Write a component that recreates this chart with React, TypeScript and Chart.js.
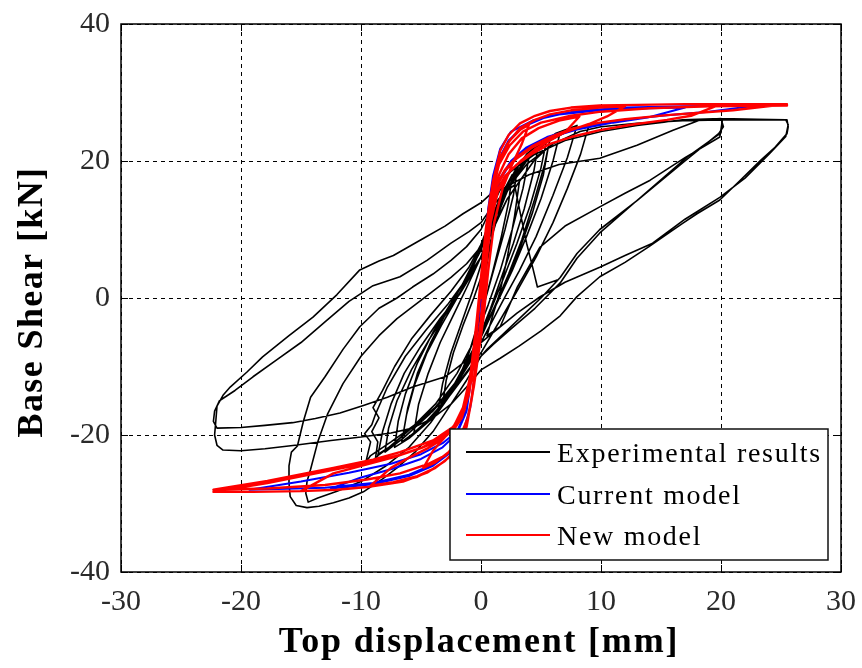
import React, { useEffect, useRef } from 'react';
import { Chart, registerables } from 'chart.js';

Chart.register(...registerables);

type P = [number, number];

const xTicks = [-30, -20, -10, 0, 10, 20, 30];
const yTicks = [-40, -20, 0, 20, 40];
const xTitle = 'Top displacement [mm]';
const yTitle = 'Base Shear [kN]';
const seriesNames = ['Experimental results', 'Current model', 'New model'];
const seriesColors = ['#000000', '#0000ff', '#ff0000'];

// ---------- Experimental results (time-ordered loops) ----------
const expSmall1: P[] = [
  [0, 0], [0.4, 4], [0.9, 9], [1.4, 13], [2, 16], [2.6, 18], [2.3, 14], [1.7, 9], [1, 4], [0.4, 0],
  [-0.3, -4], [-1, -8], [-1.8, -11.5], [-2.6, -14], [-3.2, -15.5], [-2.9, -12], [-2.3, -8], [-1.5, -4],
  [-0.6, 0], [0.2, 4], [0.9, 9], [1.6, 13], [2.4, 16.5], [3, 18.5], [2.7, 15], [2, 10], [1.2, 5], [0.4, 0],
  [-0.4, -5], [-1.3, -9.5], [-2.3, -13], [-3.3, -15.5], [-3.6, -16.5],
];
const expSmall2: P[] = [
  [-3.6, -16.5], [-3.2, -12.5], [-2.5, -8], [-1.6, -3.5], [-0.7, 1], [0.2, 6], [1, 11], [1.8, 15], [2.8, 18.5],
  [3.8, 21], [4.8, 22.5], [4.4, 18.5], [3.6, 13], [2.7, 8], [1.7, 3], [0.8, -1.5], [0, -5], [-1, -9],
  [-2.2, -13], [-3.5, -16], [-4.8, -18.5], [-5.6, -19.8], [-5.2, -15.5], [-4.4, -11], [-3.4, -6.5],
  [-2.3, -2.5], [-1.2, 1.5], [0, 6], [1, 11.5], [2, 16], [3.2, 19.5], [4.5, 22], [5.5, 23.3], [5, 19],
  [4.1, 13.5], [3, 8], [1.9, 3], [0.8, -1.8], [0, -5.5], [-1.2, -10], [-2.6, -14], [-4.2, -17.5],
  [-5.8, -20], [-6.6, -21],
];
const expSmall3: P[] = [
  [-6.6, -21], [-6.2, -17], [-5.5, -12.5], [-4.5, -8], [-3.3, -4], [-2, 0], [-0.8, 4], [0.3, 8.5], [1.3, 13],
  [2.3, 16.8], [3.4, 20], [4.6, 22.3], [5.8, 23.6], [5.3, 19.5], [4.4, 14], [3.4, 8.5], [2.3, 3.5], [1.2, -1],
  [0.2, -5], [-1, -9.5], [-2.5, -14], [-4.2, -17.8], [-6, -20.5], [-7.2, -21.8], [-6.9, -18], [-6.3, -14],
  [-5.3, -9.5], [-4, -5], [-2.6, -1], [-1.2, 3], [0, 7], [1.1, 12], [2.2, 16], [3.5, 19.8], [5, 22.5],
  [6.6, 24.2], [6, 20], [5, 14.5], [3.8, 9], [2.6, 4], [1.4, -0.5], [0.3, -4.5], [-0.9, -9], [-2.4, -13.5],
  [-4.2, -17.5], [-6, -20.3], [-6.6, -21],
];
const expMid1: P[] = [
  [-6.6, -21], [-6.1, -16], [-5.3, -11], [-4.2, -6.5], [-3, -2.5], [-1.6, 1.8], [-0.4, 6], [0.7, 11],
  [1.8, 15.5], [3, 19], [4.5, 22], [6.2, 24], [8, 25.2], [7.2, 20.5], [6, 15], [4.6, 9], [3.2, 4],
  [1.8, -0.5], [0.6, -4.5], [-0.6, -8.5], [-2.2, -13], [-4, -16.5], [-5.8, -19], [-7.4, -21.5],
  [-8.4, -22.6], [-8.8, -23.5], [-8.6, -21], [-9.1, -19.5], [-8.5, -17.5], [-9, -16], [-8.2, -13.5],
  [-7.2, -10], [-5.8, -6], [-4.2, -2.5], [-2.5, 1], [-1, 4.5], [0.2, 8.5],
];
const expMid2: P[] = [
  [0.2, 8.5], [1.3, 13.5], [2.5, 17.5], [4, 20.5], [5.5, 22.8], [7.2, 24.3], [9, 25.3], [8.3, 21], [7.2, 16],
  [6, 11], [4.6, 6], [3, 1], [1.5, -3.5], [0, -8], [-1.5, -11.5], [-3.5, -15.5],
  [-5.5, -18.5], [-7.5, -21], [-9.2, -23], [-9.6, -24], [-9.2, -21], [-9.7, -19.8], [-9.1, -18.5],
  [-8.8, -17], [-7.8, -13], [-6.3, -8.5], [-4.5, -4.5], [-2.8, -1], [-1.2, 2.8], [0, 6],
];
const expMid3: P[] = [
  [0, 6], [1, 11], [2, 15], [3, 18], [4, 20.5], [3.5, 16], [2.6, 10], [1.6, 4], [0.6, -1], [-0.5, -6],
  [-2, -11], [-3.8, -15.5], [-5.8, -19], [-7.8, -22], [-8.6, -23], [-8.2, -19.5], [-7.5, -15.5],
  [-6.4, -11], [-5, -7], [-3.4, -3], [-1.8, 0.5], [-0.4, 4.5], [1, 10], [2.2, 14.5], [3.2, 17],
  [4.4, 20], [5.6, 22], [5.2, 18], [4.3, 12.5], [3.2, 7], [2, 2], [0.8, -2.5], [-0.5, -7], [-2.2, -12.5],
  [-4.3, -17], [-6.5, -20.5], [-8, -22.5], [-7.7, -19], [-7, -15], [-5.8, -10.5], [-4.3, -6], [-2.8, -2],
  [-1.3, 2], [0, 6], [1.2, 11], [2.2, 14.5], [3.2, 17], [2.8, 12], [2.2, 6], [1.6, 1], [0.9, -3], [0.5, -5.5],
];
const expBig1: P[] = [
  [0.5, -5.5], [1.6, -4.2], [3, 1.5], [4.9, 7.4], [7, 10.5], [9.9, 13.3], [12, 15.3], [14.1, 17.2],
  [17, 20.5], [19.9, 23.5], [20.1, 25.8], [20, 24.1], [17.2, 20.6], [13.5, 15], [9.9, 9.5], [8, 5.8],
  [6.6, 2.2], [4.5, -1.5], [2.5, -4.5], [1, -6.8], [0, -8.5], [-1.2, -12], [-2.5, -15.5], [-4, -19.5],
  [-5.5, -22.5], [-7, -24.8], [-8.2, -26.4], [-9.8, -28.3], [-11, -29.2], [-12.3, -29.9], [-13.5, -30.4],
  [-14.5, -30.6], [-15.4, -30.3], [-15.9, -29], [-16, -27], [-16, -24.5], [-15.8, -22.5], [-15.3, -21.6],
  [-14.8, -18], [-14.2, -14.5], [-13, -11.5], [-11.5, -7.5], [-10.1, -4.2], [-8.5, -1.5], [-7, 0],
  [-5.7, 1.6], [-4, 3.5], [-2.5, 5.5], [-1.2, 7.5], [0, 10],
];
const expBig2: P[] = [
  [0, 10], [1.6, 15.8], [4, 18], [6.5, 19.5], [9.9, 20.4], [13, 22.3], [16, 24.5], [18.25, 26], [20, 26.2],
  [20.2, 25], [19.8, 24], [17, 20], [13, 14.2], [9.9, 10], [8, 6.5], [6.6, 3], [5, 0], [3.5, -2.5], [2, -5],
  [0.5, -7.5], [-1, -10.5], [-2.5, -14], [-4.2, -18.2], [-6, -21.8], [-8, -24.6], [-10, -26.8], [-12, -28.2],
  [-13.6, -29.2], [-14.4, -29.8], [-14.6, -28.5], [-14.5, -26.8], [-14.2, -25], [-13.6, -21], [-12.8, -17],
  [-11.5, -12.5], [-10, -8.5], [-8.5, -5.5], [-7, -3], [-5.5, -1], [-4, 1], [-2.5, 3], [-1.2, 5], [0, 7.5],
];
const expBig3: P[] = [
  [0, 7.5], [1, 12.5], [2.2, 16], [3.8, 19.5], [6, 22.5], [8.25, 24.3], [10, 25], [13, 25.5], [16.8, 25.9],
  [20, 26], [23, 26], [25.5, 26], [25.6, 25], [25.5, 24], [24.5, 22], [23.3, 20.1], [21.5, 17], [19.9, 14.3],
  [18, 12.3], [16.8, 10.9], [14, 7.5], [12, 5.2], [9.9, 3.1], [8, 0.2], [6.6, -2.6], [5, -4.8], [3.2, -7],
  [1.6, -8.8], [0, -10.5], [-1.2, -13], [-2.5, -15.5], [-4, -17.5], [-5.7, -19], [-7.5, -19.7], [-10, -20.3],
  [-12.5, -20.8], [-15.5, -21.5], [-18, -22], [-20, -22.3], [-21.5, -22.2], [-22, -21.5], [-22.2, -20],
  [-22.1, -18], [-22, -15.8], [-21.5, -14.2], [-20.9, -13], [-19.5, -10.8], [-18.2, -8.6], [-16, -5.5],
  [-14, -2.8], [-12, 0.5], [-10.1, 4.1], [-8.5, 5.4], [-7.3, 6.2], [-5, 8.5], [-3, 10.5], [-1.5, 12.3],
  [0, 13.9], [1, 15.5],
];
const expBig4: P[] = [
  [1, 15.5], [2.5, 18.5], [4.5, 21], [7, 23], [10, 24.3], [13, 25.2], [16.8, 26], [20, 26.2], [23, 26.1],
  [25.4, 26], [25.6, 25.3], [25.4, 23.6], [24, 21], [22, 17.5], [19.9, 14.7], [17, 11.5], [14.3, 8],
  [12, 6.2], [9.9, 4.5], [7, 2.3], [4.9, 0.15], [3, -2.2], [1.6, -4.2], [0, -6.5], [-1.5, -9.5], [-3, -11.5],
  [-5.7, -13], [-7.8, -14.5], [-9.8, -15.7], [-11.75, -16.8], [-13.8, -17.6], [-15.7, -18.2], [-18, -18.6],
  [-20, -18.9], [-22, -19], [-22.3, -18], [-22.2, -16.5], [-21.8, -15], [-20.5, -13.5], [-19, -11.5],
  [-17, -9], [-15, -6.5], [-13, -3.5], [-11, -0.5], [-9, 1.8], [-6.75, 3.1], [-4.5, 5.5], [-2.5, 8],
  [-1, 9.7], [0, 11],
];
const expEnd: P[] = [
  [0, 11], [1, 13.5], [2, 15.5], [2.8, 16.5], [3.2, 13], [3.8, 8], [4.3, 4.5], [4.7, 1.6], [6.3, 2.6],
];

// ---------- Current model ----------
const currentModel: P[] = [
  [0, 0], [0.3, 7], [0.6, 13], [1, 17.8], [1.6, 21.8], [2.5, 24.3], [4.3, 25.9], [6.5, 26.8], [9.9, 27.4],
  [14, 27.7], [17, 27.8], [14, 26.4], [11, 25.6], [8, 24.6], [5.5, 23.3], [3.8, 21.8], [2.5, 19.8],
  [1.5, 17], [0.9, 12.5], [0.4, 5], [0, -3], [-0.4, -10], [-0.9, -16], [-1.5, -19.8], [-2.5, -22.5],
  [-4, -24.5], [-6, -26], [-9, -27.2], [-12.5, -27.8], [-10, -26.2], [-7.5, -25], [-5, -23.5],
  [-3.2, -21.8], [-2, -19.8], [-1.2, -16.5], [-0.6, -9], [-0.1, 0], [0.4, 9], [0.8, 15], [1.4, 20],
  [2.3, 23], [3.5, 25], [5.5, 26.5], [8, 27.3], [12, 27.8], [17, 28], [23, 28.1], [19, 27.2], [15, 26.6],
  [11, 25.8], [8, 24.8], [5.5, 23.5], [3.8, 22], [2.5, 20], [1.5, 17.3], [0.9, 13], [0.4, 5], [0, -3],
  [-0.4, -10], [-0.9, -16], [-1.5, -19.6], [-2.5, -22.3], [-4, -24.3], [-6, -25.8], [-9, -27],
  [-13, -27.7], [-19.3, -28], [-15, -26.8], [-11, -25.5], [-7.5, -24.2], [-5, -22.8], [-3.2, -21.2],
  [-2, -19.5], [-1.2, -16.2], [-0.6, -9], [0, 0],
];

// ---------- New model ----------
const newModelSmall: P[] = [
  [0, 0], [0.3, 6], [0.6, 12], [1, 16.5], [1.6, 20.5], [2.4, 23], [3.3, 24.6], [4, 25.3],
  [3.4, 22.5], [2.6, 19.5], [1.8, 16], [1.1, 11], [0.6, 4], [0.2, -3], [-0.2, -8], [-0.6, -13],
  [-1.1, -17.5], [-1.8, -20.5], [-2.7, -22.5], [-3.8, -24], [-4.8, -24.8], [-4, -22.3], [-3, -20.3],
  [-2.2, -18.5], [-1.5, -16], [-0.9, -11.5], [-0.4, -4], [0, 3], [0.4, 9], [0.9, 14], [1.5, 18], [2.3, 21],
  [3.4, 23.3], [4.8, 24.8], [6.5, 25.9], [8.2, 26.5],
];
const newModelMid: P[] = [
  [8.2, 26.5], [7, 24.2], [5.75, 23], [4.5, 21.7], [3.3, 20], [2.3, 18.3], [1.4, 15.5], [0.8, 11], [0.4, 4],
  [0.1, -2], [-0.3, -8], [-0.7, -14], [-1.2, -18.8], [-1.8, -21.4], [-2.6, -23.2], [-3.8, -24.8],
  [-5.3, -26], [-7.3, -26.9], [-9.2, -27.4], [-7.5, -24.8], [-6, -23.3], [-4.5, -22], [-3.2, -20.6],
  [-2.2, -19], [-1.4, -16.5], [-0.8, -12], [-0.4, -5], [0, 3], [0.4, 10], [0.8, 15], [1.4, 19.5],
  [2.2, 22.5], [3.25, 24.8], [4.5, 26], [5.75, 26.8], [7.5, 27.4], [9.9, 27.8], [12, 28],
];
const newModelBig1: P[] = [
  [12, 28], [10.5, 26.5], [9, 25.4], [7.5, 24.5], [5.75, 23.3], [4.2, 21.9], [3, 20.4], [2, 18.6],
  [1.3, 16.3], [0.8, 12], [0.4, 5], [0, -3], [-0.4, -9], [-0.8, -15], [-1.3, -19.5], [-2, -22], [-3, -23.8],
  [-4.5, -25.5], [-6.5, -26.8], [-9.5, -27.6], [-12, -28], [-15, -28.2], [-12.3, -25.6], [-9.5, -24.3],
  [-7, -23.1], [-5, -21.9], [-3.5, -20.6], [-2.4, -19.3], [-1.6, -17.3], [-1, -13.8], [-0.5, -7.5],
  [-0.1, 0], [0.3, 7], [0.6, 12.4], [1, 17], [1.6, 21.5], [2.3, 23.8], [3.25, 25.5], [4.5, 26.6],
  [5.75, 27.3], [7.5, 27.8], [9.9, 28.1], [13, 28.2], [17, 28.3], [20, 28.3],
];
const newModelBig2: P[] = [
  [20, 28.3], [17.5, 26.6], [15.5, 26], [12.5, 25.3], [9.9, 24.5], [7.5, 23.5], [5.75, 22.5], [4.2, 21],
  [3, 19.5], [2, 17.8], [1.3, 15.5], [0.8, 11.5], [0.4, 5], [0, -3], [-0.4, -9.5], [-0.8, -15],
  [-1.3, -19.3], [-2, -21.8], [-2.6, -23.2], [-3.8, -24.8], [-5.3, -26.1], [-7.3, -27], [-9.5, -27.6],
  [-12, -28], [-15, -28.2], [-19, -28.3], [-22.3, -28.3], [-17.8, -27], [-12.3, -25.1], [-9, -23.9],
  [-6.75, -22.9], [-5, -21.9], [-4, -21.2], [-3, -20.2], [-2.3, -19.3], [-1.6, -17.5], [-1, -14],
  [-0.5, -8], [-0.1, 0], [0.3, 7.5], [0.6, 12.4], [1, 17], [1.6, 21.5], [2.3, 23.8], [3.25, 25.5],
  [4.5, 26.6], [5.75, 27.3], [7.5, 27.8], [9.9, 28.1], [13, 28.2], [17, 28.3], [21, 28.3], [25.5, 28.3],
];
const newModelBig3: P[] = [
  [25.5, 28.3], [21, 27.4], [15.5, 26.7], [12, 26.1], [9.9, 25.6], [7.5, 24.7], [5.75, 23.5], [4.2, 22.1],
  [3, 20.6], [2, 18.7], [1.3, 16.5], [0.8, 12], [0.4, 5], [0.1, -2], [-0.3, -8], [-0.7, -14],
  [-1.2, -18.8], [-2, -21.5], [-3, -23], [-4.5, -24.3], [-6.75, -25.6], [-9.5, -26.5], [-13, -27.3],
  [-17.8, -27.8], [-22.3, -28], [-17.8, -26.7], [-12.3, -24.8], [-9, -23.6], [-6.75, -22.5], [-4, -20.8],
  [-2.3, -18.8], [-1.3, -15.5], [-0.6, -8], [-0.1, 1], [0.4, 9], [0.8, 14.5], [1.5, 19.5], [2.4, 22.3],
  [3.5, 24.3], [5, 25.6], [7.5, 26.6], [10, 27.2], [14, 27.7], [19, 28], [25.5, 28.1],
];

const experimental: P[] = [
  ...expSmall1, ...expSmall2, ...expSmall3, ...expMid1, ...expMid2, ...expMid3,
  ...expBig1, ...expBig2, ...expBig3, ...expBig4, ...expEnd,
];
const newModel: P[] = [...newModelSmall, ...newModelMid, ...newModelBig1, ...newModelBig2, ...newModelBig3];

const toXY = (arr: P[]) => arr.map(([x, y]) => ({ x, y }));

const decorPlugin = {
  id: 'decor',
  afterDatasetsDraw(chart: any) {
    const { ctx, chartArea, scales } = chart;
    const { left, right, top, bottom } = chartArea;
    ctx.save();
    ctx.setLineDash([]);
    // inner ticks
    ctx.strokeStyle = '#000';
    ctx.lineWidth = 1;
    ctx.beginPath();
    xTicks.forEach((v) => {
      const px = Math.round(scales.x.getPixelForValue(v)) + 0.5;
      ctx.moveTo(px, bottom);
      ctx.lineTo(px, bottom - 7);
      ctx.moveTo(px, top);
      ctx.lineTo(px, top + 7);
    });
    yTicks.forEach((v) => {
      const py = Math.round(scales.y.getPixelForValue(v)) + 0.5;
      ctx.moveTo(left, py);
      ctx.lineTo(left + 7, py);
      ctx.moveTo(right, py);
      ctx.lineTo(right - 7, py);
    });
    ctx.stroke();
    // frame
    ctx.lineWidth = 1.5;
    ctx.strokeRect(left, top, right - left, bottom - top);

    // legend
    const bx = right - 391;
    const by = bottom - 143;
    const bw = 378;
    const bh = 131;
    ctx.fillStyle = '#ffffff';
    ctx.fillRect(bx, by, bw, bh);
    ctx.lineWidth = 1.5;
    ctx.strokeStyle = '#111';
    ctx.strokeRect(bx, by, bw, bh);
    const rowsLine = [23, 65, 106];
    ctx.font = '28px "Liberation Serif"';
    (ctx as any).letterSpacing = '1.7px';
    ctx.textAlign = 'left';
    ctx.textBaseline = 'alphabetic';
    seriesNames.forEach((name, i) => {
      const ly = by + rowsLine[i];
      ctx.strokeStyle = seriesColors[i];
      ctx.lineWidth = 2;
      ctx.beginPath();
      ctx.moveTo(bx + 16, ly);
      ctx.lineTo(bx + 100, ly);
      ctx.stroke();
      ctx.fillStyle = '#000';
      ctx.fillText(name, bx + 107, ly + 10);
    });
    ctx.restore();
  },
  afterDraw(chart: any) {
    const { ctx, chartArea } = chart;
    ctx.save();
    ctx.fillStyle = '#000';
    ctx.font = 'bold 36px "Liberation Serif"';
    (ctx as any).letterSpacing = '1.8px';
    ctx.textAlign = 'center';
    ctx.textBaseline = 'alphabetic';
    ctx.fillText(xTitle, (chartArea.left + chartArea.right) / 2 - 2, 652);
    ctx.translate(42, 302);
    ctx.rotate(-Math.PI / 2);
    (ctx as any).letterSpacing = '1.4px';
    ctx.fillText(yTitle, 0, 0);
    ctx.restore();
  },
};

export default function App() {
  const ref = useRef<HTMLCanvasElement>(null);
  useEffect(() => {
    document.body.style.margin = '0';
    const canvas = ref.current!;
    const lineDs = (label: string, data: P[], color: string, width: number, order: number) => ({
      label,
      data: toXY(data),
      showLine: true,
      borderColor: color,
      backgroundColor: color,
      borderWidth: width,
      pointRadius: 0,
      pointHoverRadius: 0,
      tension: 0,
      borderJoinStyle: 'round' as const,
      borderCapStyle: 'round' as const,
      order,
    });
    const tickFont = { family: '"Liberation Serif"', size: 30 };
    const chart = new Chart(canvas, {
      type: 'scatter',
      data: {
        datasets: [
          lineDs(seriesNames[2], newModel, seriesColors[2], 2.4, 1),
          lineDs(seriesNames[1], currentModel, seriesColors[1], 2, 2),
          lineDs(seriesNames[0], experimental, seriesColors[0], 1.6, 3),
        ],
      },
      options: {
        animation: false,
        responsive: false,
        maintainAspectRatio: false,
        events: [],
        layout: { padding: { top: 24, right: 21, bottom: 0, left: 0 } },
        plugins: { legend: { display: false }, tooltip: { enabled: false } },
        scales: {
          x: {
            type: 'linear',
            min: xTicks[0],
            max: xTicks[xTicks.length - 1],
            afterBuildTicks: (s: any) => {
              s.ticks = xTicks.map((v) => ({ value: v }));
            },
            afterFit: (s: any) => {
              s.height = 96;
              s.paddingLeft = 0;
              s.paddingRight = 0;
            },
            ticks: { font: tickFont, color: '#2a2a2a', padding: 12, callback: (v: any) => String(v), maxRotation: 0, autoSkip: false },
            grid: { color: '#000', lineWidth: 1, drawTicks: false },
            border: { display: false, dash: [4, 4] },
          },
          y: {
            type: 'linear',
            min: yTicks[0],
            max: yTicks[yTicks.length - 1],
            afterBuildTicks: (s: any) => {
              s.ticks = yTicks.map((v) => ({ value: v }));
            },
            afterFit: (s: any) => {
              s.width = 121;
              s.paddingTop = 0;
              s.paddingBottom = 0;
            },
            ticks: { font: tickFont, color: '#2a2a2a', padding: 11, callback: (v: any) => String(v), autoSkip: false },
            grid: { color: '#000', lineWidth: 1, drawTicks: false },
            border: { display: false, dash: [4, 4] },
          },
        },
      } as any,
      plugins: [decorPlugin],
    });
    return () => chart.destroy();
  }, []);
  return (
    <canvas ref={ref} width={862} height={668} style={{ display: 'block', width: 862, height: 668 }} />
  );
}
